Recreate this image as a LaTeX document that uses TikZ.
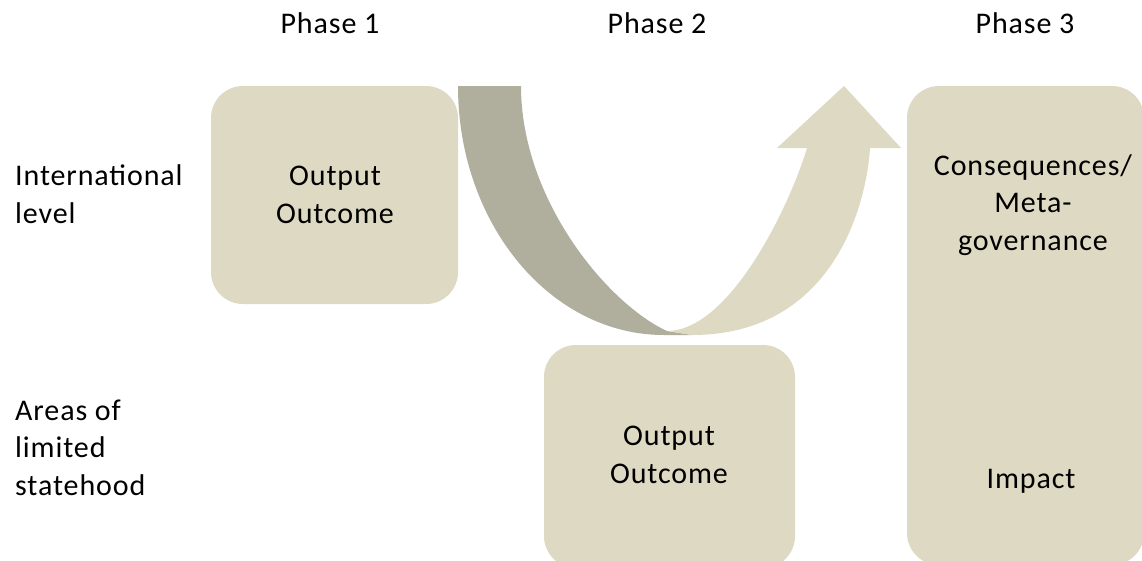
\documentclass[tikz,border=0pt]{standalone}
\usepackage{fontspec}
\setmainfont[LetterSpace=3]{Carlito}
\definecolor{tanlight}{HTML}{DDD9C3}
\definecolor{tandark}{HTML}{B0AE9C}
\begin{document}
\begin{tikzpicture}[x=1pt,y=-1pt,
  box/.style={fill=tanlight, draw=none, rounded corners=32pt, inner sep=0pt, outer sep=0pt},
  lbl/.style={font=\fontsize{30}{37.5}\selectfont, inner sep=0pt, anchor=base, align=center},
  lbll/.style={font=\fontsize{30}{37.5}\selectfont, inner sep=0pt, anchor=base west, align=left}]
\useasboundingbox (0,0) rectangle (1142,560);
\fill[white] (0,0) rectangle (1142,560);
% boxes
\node[box, minimum width=247pt, minimum height=218pt] (b1) at (334.5,195) {};
\node[box, minimum width=251pt, minimum height=223pt] (b2) at (669.5,456.5) {};
\node[box, minimum width=237pt, minimum height=479pt] (b3) at (1025.5,325.5) {};
% U-turn arrow
\fill[tandark] (458,86) .. controls (458,223.5) and (550,335) .. (664,335) -- (692,335) -- (667,331)
  .. controls (608,304) and (521,200) .. (521,86) -- cycle;
\fill[tanlight] (667,331) -- (692,335) .. controls (830,335) and (866,210) .. (870,148)
  -- (901,148) -- (844,86) -- (777,148) -- (807,148)
  .. controls (790,205) and (730,331) .. (667,331) -- cycle;
% headings
\node[lbl] (p1) at (330,33) {Phase 1};
\node[lbl] (p2) at (657,33) {Phase 2};
\node[lbl] (p3) at (1025,33) {Phase 3};
% row labels (anchor = baseline of last line)
\node[lbll] (r1) at (15,223) {International\\level};
\node[lbll] (r2) at (15,495) {Areas of\\limited\\statehood};
% box texts
\node[lbl] (t1) at (335,223) {Output\\Outcome};
\node[lbl] (t2) at (669,483) {Output\\Outcome};
\node[lbl] (t3) at (1033,250) {Consequences/\\Meta-\\governance};
\node[lbl] (t4) at (1031,488) {Impact};
\end{tikzpicture}
\end{document}
